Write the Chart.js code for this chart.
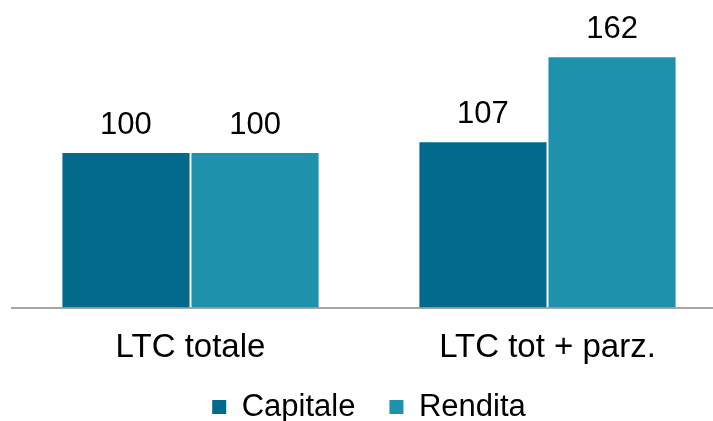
<!DOCTYPE html>
<html>
<head>
<meta charset="utf-8">
<script src="https://cdn.jsdelivr.net/npm/chart.js@4.4.1/dist/chart.umd.min.js"></script>
<style>
  html, body { margin: 0; padding: 0; background: #fff; overflow: hidden; }
  .wrap { width: 740px; height: 421px; }
</style>
</head>
<body>
<div class="wrap"><canvas id="ltcChart" width="740" height="421"></canvas></div>
<script>
// data
const categories = ['LTC totale', 'LTC tot + parz.'];
const capitale = [100, 107];
const rendita = [100, 162];

const fontFamily = '"Liberation Sans", Arial, sans-serif';

// value labels above the bars
const valueLabels = {
  id: 'valueLabels',
  afterLayout(chart) {
    // let the category labels overflow the shortened axis box
    chart.scales.x.bottom = chart.height;
  },
  afterDatasetsDraw(chart) {
    const ctx = chart.ctx;
    ctx.save();
    ctx.font = '31px ' + fontFamily;
    ctx.fillStyle = '#000';
    ctx.textAlign = 'center';
    ctx.textBaseline = 'alphabetic';
    chart.data.datasets.forEach(function (ds, i) {
      chart.getDatasetMeta(i).data.forEach(function (bar, j) {
        ctx.fillText(ds.data[j], bar.x, bar.y - 19);
      });
    });
    ctx.restore();
  }
};

new Chart(document.getElementById('ltcChart'), {
  type: 'bar',
  data: {
    labels: categories,
    datasets: [
      { label: 'Capitale', data: capitale, backgroundColor: '#036a8b' },
      { label: 'Rendita', data: rendita, backgroundColor: '#1e91ad' }
    ]
  },
  options: {
    responsive: false,
    animation: false,
    categoryPercentage: 0.723,
    barPercentage: 0.985,
    layout: { padding: { left: 12, right: 14, top: 14, bottom: -11.5 } },
    plugins: {
      legend: {
        position: 'bottom',
        labels: {
          boxWidth: 14,
          boxHeight: 14,
          padding: 34,
          color: '#000',
          font: { family: fontFamily, size: 31 }
        }
      },
      tooltip: { enabled: false }
    },
    scales: {
      x: {
        grid: { display: false, drawTicks: false },
        border: { color: '#a6a6a6', width: 2 },
        ticks: {
          padding: 21,
          color: '#000',
          font: { family: fontFamily, size: 33 }
        },
        afterFit: function (scale) {
          scale.height = 50;
        }
      },
      y: {
        display: false,
        min: 0,
        max: 190
      }
    }
  },
  plugins: [valueLabels]
});
</script>
</body>
</html>
